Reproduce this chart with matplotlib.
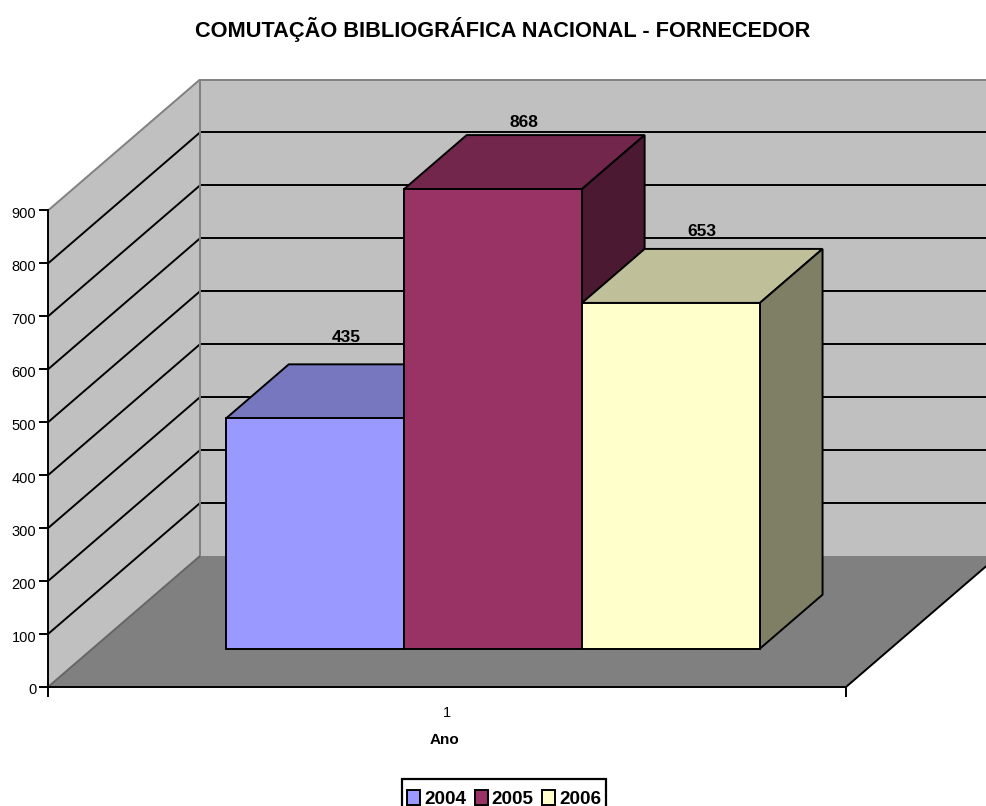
import matplotlib
matplotlib.use("Agg")
import matplotlib.pyplot as plt
from matplotlib.patches import Polygon, Patch, Rectangle
from matplotlib.transforms import ScaledTranslation

plt.rcParams['font.family'] = ['Liberation Sans', 'DejaVu Sans']

# ---- data ----
title = "COMUTAÇÃO BIBLIOGRÁFICA NACIONAL - FORNECEDOR"
years = ["2004", "2005", "2006"]
values = [435, 868, 653]
y_ticks = [0, 100, 200, 300, 400, 500, 600, 700, 800, 900]
x_category = "1"
x_title = "Ano"

# ---- style ----
front_colors = ["#9999FF", "#993366", "#FFFFCC"]
top_colors = ["#7777BF", "#72264C", "#BFBF99"]
side_colors = ["#4C4C7F", "#4C1933", "#7F7F66"]
label_offsets = [(0, 33), (0, 22.8), (0, 26.7)]

W, H = 986, 806
fig = plt.figure(figsize=(W / 100, H / 100), dpi=100, facecolor="white")
L, R, B, T = 48, 846, 687, 210.5
ax = fig.add_axes([L / W, 1 - B / H, (R - L) / W, (B - T) / H])
ax.set_xlim(0, 1)
ax.set_ylim(0, 900)
ax.patch.set_visible(False)

# oblique projection: depth 0 (front) .. 1 (back wall)
DX = 152 / (R - L)
DY = 131 / ((B - T) / 900)


def proj(x, v, d):
    return (x + DX * d, v + DY * d)


def poly(pts, **kw):
    kw.setdefault("clip_on", False)
    p = Polygon([proj(*q) for q in pts], closed=True, **kw)
    ax.add_patch(p)
    return p


def seg(a, b, **kw):
    pa, pb = proj(*a), proj(*b)
    ax.plot([pa[0], pb[0]], [pa[1], pb[1]], clip_on=False, solid_capstyle="butt", **kw)


vmax = y_ticks[-1]
wall = "#C0C0C0"
edge = "#808080"
LW = 1.4
# back wall
poly([(0, 0, 1), (1, 0, 1), (1, vmax, 1), (0, vmax, 1)], fc=wall, ec="none", zorder=1)
# side wall
poly([(0, 0, 0), (0, 0, 1), (0, vmax, 1), (0, vmax, 0)], fc=wall, ec="none", zorder=1)
# floor
poly([(0, 0, 0), (1, 0, 0), (1, 0, 1), (0, 0, 1)], fc="#808080", ec="none", zorder=1.5)

# gridlines
for v in y_ticks[1:-1]:
    seg((0, v, 0), (0, v, 1), color="black", lw=LW, zorder=2)
    seg((0, v, 1), (1, v, 1), color="black", lw=LW, zorder=2)
seg((0, vmax, 1), (1, vmax, 1), color=edge, lw=LW, zorder=2)
seg((0, vmax, 0), (0, vmax, 1), color=edge, lw=LW, zorder=2)
seg((0, 0, 1), (0, vmax, 1), color=edge, lw=LW, zorder=2)
seg((0, 0, 0), (0, 0, 1), color="#666666", lw=LW, zorder=2)
seg((1, 0, 0), (1, 0, 1), color="black", lw=LW, zorder=2)

# bars
bar_w = 1 / (len(values) + 1.485)
x0 = (1 - bar_w * len(values)) / 2 + 1.5 / (R - L)
d0, d1 = 0.293, 0.705
for i, (val, fc, tc, sc) in enumerate(zip(values, front_colors, top_colors, side_colors)):
    a, b = x0 + i * bar_w, x0 + (i + 1) * bar_w
    z = 3 + i * 0.1
    st = dict(ec="black", lw=LW, joinstyle="miter", zorder=z)
    poly([(a, val, d0), (b, val, d0), (b, val, d1), (a, val, d1)], fc=tc, **st)
    poly([(b, 0, d0), (b, 0, d1), (b, val, d1), (b, val, d0)], fc=sc, **st)
    poly([(a, 0, d0), (b, 0, d0), (b, val, d0), (a, val, d0)], fc=fc, **st)
    ax.annotate(str(val), xy=proj((a + b) / 2, val, (d0 + d1) / 2), xytext=label_offsets[i],
                textcoords="offset points", ha="center", va="bottom",
                fontsize=12.5, fontweight="bold", color="black", zorder=6,
                annotation_clip=False)

# axes
for s in ("top", "right"):
    ax.spines[s].set_visible(False)
for s in ("left", "bottom"):
    ax.spines[s].set_linewidth(LW)
    ax.spines[s].set_zorder(2.5)
ax.set_yticks(y_ticks)
ax.tick_params(axis="y", length=6.5, width=LW, labelsize=10.5, pad=2)
shift = ScaledTranslation(0, -2 / 100, fig.dpi_scale_trans)
for lab in ax.get_yticklabels():
    lab.set_transform(lab.get_transform() + shift)
ax.set_xticks([0, 1])
ax.set_xticklabels([])
ax.tick_params(axis="x", which="major", length=7.2, width=LW)
ax.set_xticks([0.5], minor=True)
ax.set_xticklabels([x_category], minor=True)
ax.tick_params(axis="x", which="minor", length=0, labelsize=10.5, pad=14)
ax.set_xlabel(x_title, fontsize=11, fontweight="bold", labelpad=9, x=0.5 - 2 / (R - L))

# title
fig.text(503 / W, 1 - 30 / H, title, ha="center", va="center", fontsize=15.7, fontweight="bold")

# legend: frame runs off the bottom edge of the image, as in the reference
fig.add_artist(Rectangle((402 / W, 1 - 815 / H), 204 / W, 36 / H, transform=fig.transFigure,
                         fc="white", ec="black", lw=1.6, zorder=4))
handles = [Patch(fc=c, ec="black", lw=LW, label=y) for c, y in zip(front_colors, years)]
leg = fig.legend(handles=handles, loc="center", bbox_to_anchor=(504 / W, 1 - 799 / H),
                 ncol=3, frameon=False, handlelength=0.7, handleheight=0.8,
                 handletextpad=0.2, columnspacing=0.45, borderpad=0.2, borderaxespad=0,
                 prop={"size": 13.6, "weight": "bold", "family": "Liberation Sans"})
leg.set_zorder(5)

fig.savefig("out.png", dpi=100, facecolor="white")
